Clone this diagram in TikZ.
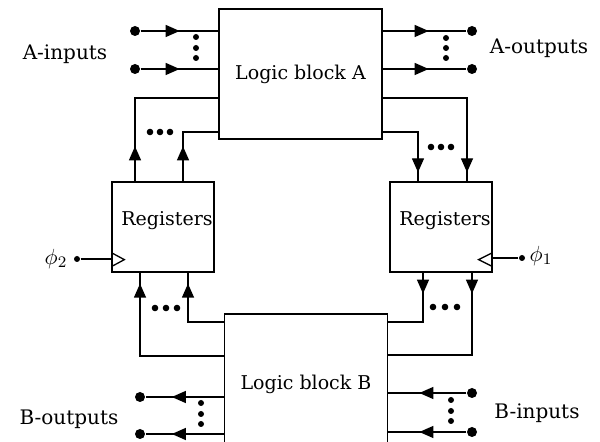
\documentclass[tikz,border=0pt]{standalone}
\usepackage{fontspec}
\setmainfont{DejaVu Serif}
\usetikzlibrary{arrows.meta,decorations.markings}

\begin{document}
\begin{tikzpicture}[x=0.5pt,y=-0.5pt,line width=0.65pt,
				every node/.style={font=\fontsize{9.5}{11}\selectfont},
				block/.style={draw,minimum width=81.5pt,minimum height=65pt,inner sep=0pt},
				reg/.style={draw,minimum width=51pt,minimum height=45pt,inner sep=0pt,text height=7pt,text depth=8pt},
				io/.style={anchor=base,font=\fontsize{10}{12}\selectfont},
				pin/.style={circle,fill,inner sep=0pt,minimum size=5pt},
				clk/.style={circle,fill,inner sep=0pt,minimum size=3pt},
				tip at/.style={postaction={decorate},decoration={markings,
					mark=at position #1 with {\arrow{Triangle[length=7pt,width=6pt]}}}}]
\useasboundingbox (0,0) rectangle (600,442);
\node[block] (logicA) at (300.5,74) {Logic block A};
\node[block,minimum height=70pt] (logicB) at (306,384) {Logic block B};
\node[reg] (regL) at (163,227) {\hspace*{4pt}Registers};
\node[reg] (regR) at (441,227) {\hspace*{4pt}Registers};

\node[pin] (ain1) at (135,31) {};
\node[pin] (ain2) at (135,69) {};
\node[pin] (aout1) at (472,31) {};
\node[pin] (aout2) at (472,69) {};
\node[pin] (bout1) at (140,397) {};
\node[pin] (bout2) at (140,434) {};
\node[pin] (bin1) at (472,393) {};
\node[pin] (bin2) at (472,432) {};
\node[io] (ainlbl) at (65,60) {A-inputs};
\node[io] (aoutlbl) at (539,54) {A-outputs};
\node[io] (boutlbl) at (69,425) {B-outputs};
\node[io] (binlbl) at (537,419) {B-inputs};

\draw[tip at=19.5pt] (ain1) -- (logicA.west |- ain1);
\draw[tip at=19.5pt] (ain2) -- (logicA.west |- ain2);
\draw[tip at=23pt] (logicA.east |- aout1) -- (aout1);
\draw[tip at=23pt] (logicA.east |- aout2) -- (aout2);
\draw[tip at=26pt] (logicB.west |- bout1) -- (bout1);
\draw[tip at=26pt] (logicB.west |- bout2) -- (bout2);
\draw[tip at=23.5pt] (bin1) -- (logicB.east |- bin1);
\draw[tip at=23.5pt] (bin2) -- (logicB.east |- bin2);

\draw[tip at=17.5pt] (135,0 |- regL.north) |- (logicA.west |- 0,98);
\draw[tip at=17.5pt] (183,0 |- regL.north) |- (logicA.west |- 0,132);
\draw[tip at=-4.5pt] (logicA.east |- 0,98) -| (467,0 |- regR.north);
\draw[tip at=-4.5pt] (logicA.east |- 0,132) -| (418,0 |- regR.north);
\draw[tip at=-5.5pt] (logicB.west |- 0,322) -| (188,0 |- regL.south);
\draw[tip at=-5.5pt] (logicB.west |- 0,356) -| (140,0 |- regL.south);
\draw[tip at=10.5pt] (423,0 |- regR.south) |- (logicB.east |- 0,322);
\draw[tip at=10.5pt] (472,0 |- regR.south) |- (logicB.east |- 0,355);

\node[clk] (phi2) at (77,259) {};
\draw (phi2) -- (regL.west |- phi2);
\draw ([yshift=3pt]regL.south west) -- ++(6.5pt,3.5pt) -- ++(-6.5pt,3.5pt);
\node (phi2lbl) at (56,259) {\fontsize{11}{13}\selectfont$\phi_2$};
\node[clk] (phi1) at (522,258) {};
\draw (phi1) -- (regR.east |- phi1);
\draw ([yshift=3pt]regR.south east) -- ++(-7pt,3.5pt) -- ++(7pt,3.5pt);
\node (phi1lbl) at (541,256) {\fontsize{11}{13}\selectfont$\phi_1$};

\fill (196,37) circle (3) (196,48) circle (3) (196,58) circle (3);
\fill (446,38) circle (3) (446,48) circle (3) (446,58) circle (3);
\fill (201,403) circle (3) (201,414) circle (3) (201,424) circle (3);
\fill (451,400) circle (3) (451,411) circle (3) (451,421) circle (3);
\fill (150,132) circle (3.3) (160,132) circle (3.3) (170,132) circle (3.3);
\fill (431,147) circle (3.3) (441,147) circle (3.3) (451,147) circle (3.3);
\fill (155,308) circle (3.3) (166,308) circle (3.3) (177,308) circle (3.3);
\fill (433,307) circle (3.3) (445,307) circle (3.3) (457,307) circle (3.3);
\end{tikzpicture}
\end{document}
